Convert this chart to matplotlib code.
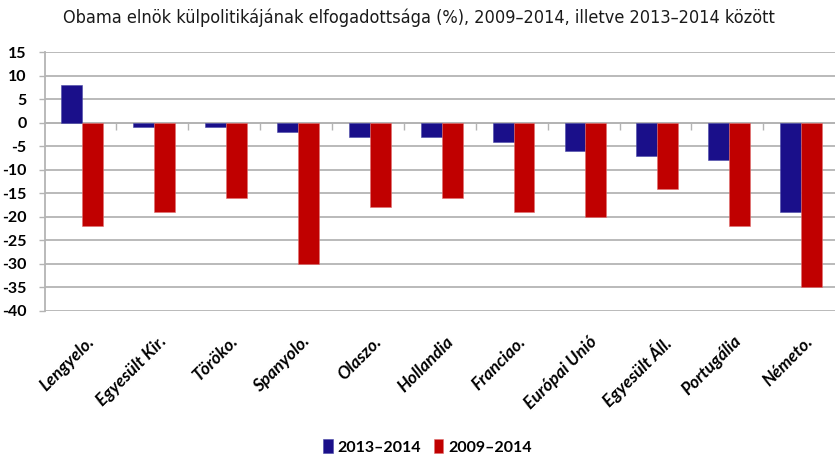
import matplotlib
matplotlib.use('Agg')
import matplotlib.pyplot as plt
import numpy as np

plt.rcParams['font.family'] = ['Lato', 'DejaVu Sans']
plt.rcParams['axes.unicode_minus'] = False

# adatok
orszagok = ['Lengyelo.', 'Egyesült Kir.', 'Töröko.', 'Spanyolo.', 'Olaszo.', 'Hollandia',
            'Franciao.', 'Európai Unió', 'Egyesült Áll.', 'Portugália', 'Németo.']
valt_2013_2014 = [8, -1, -1, -2, -3, -3, -4, -6, -7, -8, -19]
valt_2009_2014 = [-22, -19, -16, -30, -18, -16, -19, -20, -14, -22, -35]
y_ticks = list(range(-40, 16, 5))

kek = '#1A0F8A'
piros = '#C00000'
racs = '#B4B4B4'

fig = plt.figure(figsize=(8.35, 4.57), dpi=100)
ax = fig.add_axes([0.0533, 0.3195, 0.947, 0.5665])

x = np.arange(len(orszagok))
w = 0.29
ax.bar(x - 0.12, valt_2013_2014, w, color=kek, edgecolor='#4a4aa8', linewidth=0.4,
       label='2013–2014', zorder=3)
ax.bar(x + 0.17, valt_2009_2014, w, color=piros, edgecolor='#e07070', linewidth=0.4,
       label='2009–2014', zorder=3)

ax.set_xlim(-0.5, len(orszagok) - 0.5)
ax.set_ylim(-40, 15)
ax.set_yticks(y_ticks)
ax.yaxis.grid(True, color=racs, linewidth=1.3, zorder=0)
ax.set_axisbelow(True)
for s in ['top', 'right']:
    ax.spines[s].set_visible(False)
ax.spines['left'].set_color(racs)
ax.spines['left'].set_linewidth(1.3)
ax.tick_params(axis='y', length=4, color=racs, width=1.0, pad=9, labelsize=11.5)
for lbl in ax.get_yticklabels():
    lbl.set_fontweight('bold')

# vízszintes tengely a 0-nál, osztásjelek a kategóriák között
ax.spines['bottom'].set_position(('data', 0))
ax.spines['bottom'].set_color(racs)
ax.spines['bottom'].set_linewidth(1.3)
ax.set_xticks(x[:-1] + 0.5)
ax.set_xticklabels([])
ax.tick_params(axis='x', length=5, color=racs, width=1.0)

# kategóriafeliratok alul
sec = ax.secondary_xaxis('bottom')
sec.set_xticks(x + 0.08)
sec.set_xticklabels(orszagok, rotation=45, ha='right', rotation_mode='anchor',
                    fontsize=12.5, fontweight='bold', fontstyle='italic')
sec.tick_params(length=0, pad=16)
sec.spines['bottom'].set_visible(False)

fig.text(0.502, 0.962, 'Obama elnök külpolitikájának elfogadottsága (%), 2009–2014, illetve 2013–2014 között',
         ha='center', va='center', fontsize=13, color='#1a1a1a',
         family='DejaVu Sans', fontstretch='condensed')

fig.legend(loc='center', bbox_to_anchor=(0.512, 0.022), ncol=2, frameon=False,
           prop={'weight': 'bold', 'size': 11.5}, handlelength=0.6, handleheight=0.9,
           handletextpad=0.3, columnspacing=0.8)

fig.savefig('out.png', dpi=100)
